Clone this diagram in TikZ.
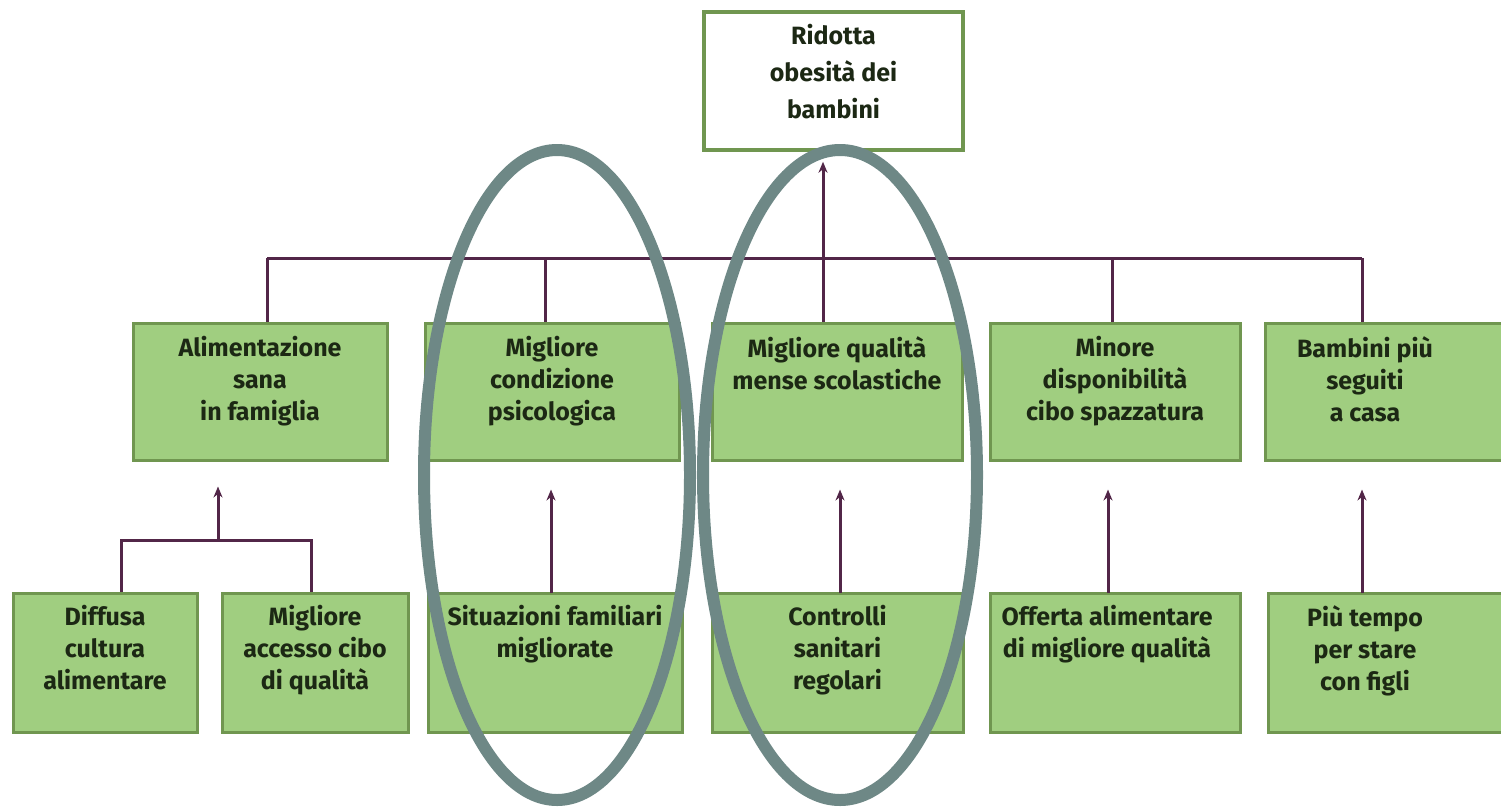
\documentclass[tikz,border=0pt]{standalone}
\usepackage{fontspec}
\setmainfont{Fira Sans}
\usetikzlibrary{arrows.meta}
\definecolor{boxfill}{RGB}{160,206,128}
\definecolor{boxline}{RGB}{112,150,80}
\definecolor{conncol}{RGB}{82,38,72}
\definecolor{ellcol}{RGB}{110,136,134}
\definecolor{txtcol}{RGB}{28,40,20}
\tikzset{
  gbox/.style={draw=boxline, line width=3pt, fill=boxfill, inner sep=0pt},
  wbox/.style={draw=boxline, line width=3.5pt, fill=white, inner sep=0pt},
  txt/.style={anchor=north, align=center, inner sep=0pt, text=txtcol,
    font=\fontsize{25}{32}\selectfont\bfseries},
  conn/.style={draw=conncol, line width=3pt},
  arr/.style={conn, -{Stealth[length=11pt,width=9pt]}},
  ring/.style={draw=ellcol, line width=12pt}
}
\begin{document}
\begin{tikzpicture}[x=1pt,y=-1pt]
\clip (0,0) rectangle (1501,806);
\fill[white] (0,0) rectangle (1501,806);
% top box
\node[wbox, minimum width=259, minimum height=138] (top) at (833.5,81) {};
\node[txt, font=\fontsize{25}{37}\selectfont\bfseries] (ttop) at (833.5,24) {Ridotta\\obesità dei\\bambini};
% middle row
\node[gbox, minimum width=254, minimum height=137] (m1) at (260,391.5) {};
\node[gbox, minimum width=254, minimum height=137] (m2) at (552,391.5) {};
\node[gbox, minimum width=250, minimum height=137] (m3) at (837,391.5) {};
\node[gbox, minimum width=250, minimum height=137] (m4) at (1115,391.5) {};
\node[gbox, minimum width=265, minimum height=137] (m5) at (1397.5,391.5) {};
\node[txt] (tm1) at (260,336) {Alimentazione\\sana\\in famiglia};
\node[txt] (tm2) at (552,336) {Migliore\\condizione\\psicologica};
\node[txt] (tm3) at (837,336) {Migliore qualità\\mense scolastiche};
\node[txt] (tm4) at (1115,336) {Minore\\disponibilità\\cibo spazzatura};
\node[txt] (tm5) at (1365,336) {Bambini più\\seguiti\\a casa};
% bottom row
\node[gbox, minimum width=184, minimum height=139] (b1) at (105,662.5) {};
\node[gbox, minimum width=186, minimum height=139] (b2) at (315,662.5) {};
\node[gbox, minimum width=254, minimum height=139] (b3) at (555,662.5) {};
\node[gbox, minimum width=251, minimum height=139] (b4) at (837.5,662.5) {};
\node[gbox, minimum width=250, minimum height=139] (b5) at (1115,662.5) {};
\node[gbox, minimum width=262, minimum height=139] (b6) at (1399,662.5) {};
\node[txt] (tb1) at (105,605) {Diffusa\\cultura\\alimentare};
\node[txt] (tb2) at (315,605) {Migliore\\accesso cibo\\di qualità};
\node[txt] (tb3) at (555,605) {Situazioni familiari\\migliorate};
\node[txt] (tb4) at (837.5,605) {Controlli\\sanitari\\regolari};
\node[txt] (tb5) at (1107,605) {Offerta alimentare\\di migliore qualità};
\node[txt] (tb6) at (1365,605) {Più tempo\\per stare\\con figli};
% upper bus
\coordinate (j1) at (267,258);
\coordinate (j2) at (545,258);
\coordinate (j3) at (823,258);
\coordinate (j4) at (1112,258);
\coordinate (j5) at (1362,258);
\draw[conn] (j1) -- (j5);
\draw[conn] (j1) -- (j1 |- m1.north);
\draw[conn] (j2) -- (j2 |- m2.north);
\draw[conn] (j3) -- (j3 |- m3.north);
\draw[conn] (j4) -- (j4 |- m4.north);
\draw[conn] (j5) -- (j5 |- m5.north);
\draw[arr] (j3) -- ([yshift=-10pt]top.south -| j3);
% lower left bus
\coordinate (k1) at (121,540);
\coordinate (k2) at (311,540);
\coordinate (k0) at (218,540);
\draw[conn] (k1 |- b1.north) -- (k1) -- (k2) -- (k2 |- b2.north);
\draw[arr] (k0) -- ([yshift=-25pt]m1.south -| k0);
% lower arrows
\coordinate (a3) at (551,593);
\coordinate (a4) at (840,593);
\coordinate (a5) at (1108,593);
\coordinate (a6) at (1362,593);
\draw[arr] (a3) -- ([yshift=-28pt]m2.south -| a3);
\draw[arr] (a4) -- ([yshift=-28pt]m3.south -| a4);
\draw[arr] (a5) -- ([yshift=-28pt]m4.south -| a5);
\draw[arr] (a6) -- ([yshift=-28pt]m5.south -| a6);
% ellipses
\draw[ring] (557,475) ellipse [x radius=133, y radius=325];
\draw[ring] (840,475) ellipse [x radius=137, y radius=325];
\end{tikzpicture}
\end{document}
